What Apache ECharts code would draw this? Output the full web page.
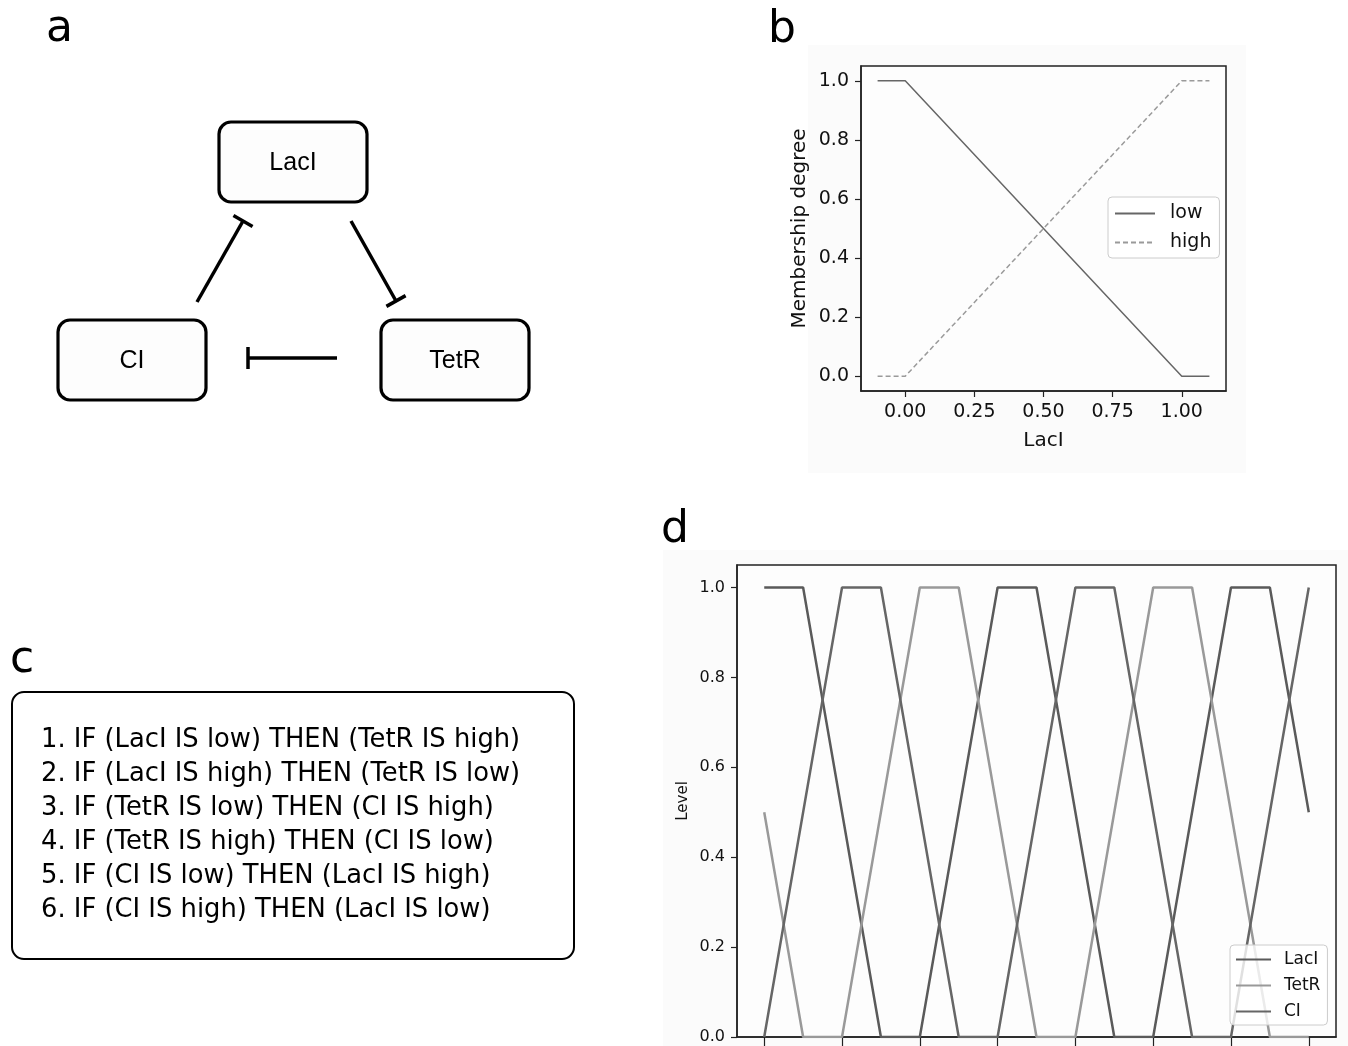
<!DOCTYPE html>
<html>
<head>
<meta charset="utf-8">
<script src="https://cdn.jsdelivr.net/npm/echarts@6/dist/echarts.min.js"></script>
<style>
  html, body { margin: 0; padding: 0; background: #fff; }
  #chart { width: 1348px; height: 1046px; }
</style>
</head>
<body>
<div id="chart"></div>
<script>
// panel a: regulatory network (schematic coordinates, px-like units)
const nodeNames = ['LacI', 'CI', 'TetR']
const nodePos = [[293, 162], [132, 360], [455, 360]]
// inhibition edges: [fromX, fromY, toX, toY], T-bar at the end
const edges = [
  [197, 302, 243, 221],
  [351, 221, 396, 301],
  [337, 358, 248, 358],
]

// panel b: membership functions
const lacIGrid = [-0.1, 0, 1, 1.1]
const lowDegree = [1, 1, 0, 0]
const highDegree = [0, 0, 1, 1]
const bTicksX = [0, 0.25, 0.5, 0.75, 1]
const bTicksY = [0, 0.2, 0.4, 0.6, 0.8, 1]

// panel c: rules
const rules = [
  '1. IF (LacI IS low) THEN (TetR IS high)',
  '2. IF (LacI IS high) THEN (TetR IS low)',
  '3. IF (TetR IS low) THEN (CI IS high)',
  '4. IF (TetR IS high) THEN (CI IS low)',
  '5. IF (CI IS low) THEN (LacI IS high)',
  '6. IF (CI IS high) THEN (LacI IS low)',
]

// panel d: simulated levels (half time steps)
const steps = [0, 0.5, 1, 1.5, 2, 2.5, 3, 3.5, 4, 4.5, 5, 5.5, 6, 6.5, 7]
const lacILevel = [1, 1, 0.5, 0, 0, 0.5, 1, 1, 0.5, 0, 0, 0.5, 1, 1, 0.5]
const tetRLevel = [0.5, 0, 0, 0.5, 1, 1, 0.5, 0, 0, 0.5, 1, 1, 0.5, 0, 0]
const cILevel = [0, 0.5, 1, 1, 0.5, 0, 0, 0.5, 1, 1, 0.5, 0, 0, 0.5, 1]
const dTicksX = [0, 1, 2, 3, 4, 5, 6, 7]
const dTicksY = [0, 0.2, 0.4, 0.6, 0.8, 1]

const font = '"DejaVu Sans", sans-serif'
const zip = (xs, ys) => xs.map((x, i) => [x, ys[i]])

const chart = echarts.init(document.getElementById('chart'), null, { renderer: 'canvas' })

const valueAxis = (grid, min, max, ticks, digits, size, extra) => ({
  type: 'value',
  gridIndex: grid,
  min,
  max,
  axisLine: { show: true, onZero: false, lineStyle: { color: '#222', width: 1.5 } },
  axisTick: { show: true, length: 6, customValues: ticks, lineStyle: { color: '#222', width: 1.2 } },
  axisLabel: {
    show: digits !== null,
    customValues: ticks,
    margin: 12,
    color: '#111',
    fontFamily: font,
    fontSize: size,
    formatter: (v) => (digits === null ? '' : v.toFixed(digits)),
  },
  splitLine: { show: false },
  ...extra,
})

const hidden = (grid, max, inverse) => ({
  type: 'value', gridIndex: grid, min: 0, max, inverse, show: false,
})

const legendBox = {
  orient: 'vertical',
  backgroundColor: 'rgba(255,255,255,0.8)',
  borderColor: '#ccc',
  borderWidth: 1,
  borderRadius: 4,
  itemStyle: { opacity: 0 },
  selectedMode: false,
}

const option = {
  animation: false,
  backgroundColor: '#fff',
  graphic: [
    { type: 'rect', z: -10, shape: { x: 808, y: 45, width: 438, height: 428 }, style: { fill: '#fbfbfb' } },
    { type: 'rect', z: -10, shape: { x: 663, y: 550, width: 685, height: 496 }, style: { fill: '#fbfbfb' } },
    { type: 'text', style: { text: 'a', x: 46, y: 30, font: '44px ' + font, verticalAlign: 'middle', fill: '#000' } },
    { type: 'text', style: { text: 'b', x: 768, y: 31, font: '44px ' + font, verticalAlign: 'middle', fill: '#000' } },
    { type: 'text', style: { text: 'c', x: 10, y: 661, font: '44px ' + font, verticalAlign: 'middle', fill: '#000' } },
    { type: 'text', style: { text: 'd', x: 661, y: 531, font: '44px ' + font, verticalAlign: 'middle', fill: '#000' } },
    {
      type: 'rect',
      shape: { x: 12, y: 692, width: 562, height: 267, r: 12 },
      style: { fill: '#fff', stroke: '#000', lineWidth: 2 },
    },
    {
      type: 'text',
      style: {
        text: rules.join('\n'),
        x: 41,
        y: 723,
        font: '25.8px ' + font,
        lineHeight: 34,
        verticalAlign: 'top',
        fill: '#000',
      },
    },
  ],
  legend: [
    {
      ...legendBox,
      data: ['low', 'high'],
      left: 1108,
      top: 197,
      padding: [7, 8, 6, 6],
      itemGap: 10,
      itemWidth: 40,
      itemHeight: 14,
      textStyle: { fontFamily: font, fontSize: 19, color: '#111', padding: [0, 0, 0, 10] },
    },
    {
      ...legendBox,
      data: ['LacI', 'TetR', 'CI'],
      left: 1230,
      top: 945,
      padding: [6, 7, 5, 5],
      itemGap: 9,
      itemWidth: 35,
      itemHeight: 12,
      textStyle: { fontFamily: font, fontSize: 17, color: '#111', padding: [0, 0, 0, 8] },
    },
  ],
  grid: [
    { left: 0, top: 0, width: 560, height: 420 },
    { left: 861, top: 66, width: 365, height: 325, show: true, borderColor: '#222', borderWidth: 1.5, backgroundColor: '#fdfdfd' },
    { left: 737, top: 565, width: 599, height: 472, show: true, borderColor: '#222', borderWidth: 1.5, backgroundColor: '#fdfdfd' },
  ],
  xAxis: [
    hidden(0, 560, false),
    valueAxis(1, -0.16, 1.16, bTicksX, 2, 19, {
      name: 'LacI',
      nameLocation: 'middle',
      nameGap: 40,
      nameTextStyle: { fontFamily: font, fontSize: 20, color: '#111' },
    }),
    valueAxis(2, -0.35, 7.35, dTicksX, null, 16, {
      axisTick: { show: true, length: 9, customValues: dTicksX, lineStyle: { color: '#222', width: 1.2 } },
    }),
  ],
  yAxis: [
    hidden(0, 420, true),
    valueAxis(1, -0.05, 1.05, bTicksY, 1, 19, {
      name: 'Membership degree',
      nameLocation: 'middle',
      nameGap: 51,
      nameTextStyle: { fontFamily: font, fontSize: 20, color: '#111' },
    }),
    valueAxis(2, 0, 1.05, dTicksY, 1, 16, {
      name: 'Level',
      nameLocation: 'middle',
      nameGap: 46,
      nameTextStyle: { fontFamily: font, fontSize: 15, color: '#111' },
    }),
  ],
  series: [
    {
      type: 'custom',
      xAxisIndex: 0,
      yAxisIndex: 0,
      silent: true,
      data: edges,
      renderItem: (params, api) => {
        const p1 = api.coord([api.value(0), api.value(1)])
        const p2 = api.coord([api.value(2), api.value(3)])
        const dx = p2[0] - p1[0]
        const dy = p2[1] - p1[1]
        const len = Math.hypot(dx, dy)
        const nx = -dy / len * 11
        const ny = dx / len * 11
        const style = { stroke: '#000', lineWidth: 3.5 }
        return {
          type: 'group',
          children: [
            { type: 'line', shape: { x1: p1[0], y1: p1[1], x2: p2[0], y2: p2[1] }, style },
            { type: 'line', shape: { x1: p2[0] - nx, y1: p2[1] - ny, x2: p2[0] + nx, y2: p2[1] + ny }, style },
          ],
        }
      },
    },
    {
      type: 'custom',
      xAxisIndex: 0,
      yAxisIndex: 0,
      silent: true,
      data: nodePos,
      renderItem: (params, api) => {
        const c = api.coord([api.value(0), api.value(1)])
        const s = api.size([148, 80])
        return {
          type: 'group',
          children: [
            {
              type: 'rect',
              shape: { x: c[0] - s[0] / 2, y: c[1] - s[1] / 2, width: s[0], height: s[1], r: 12 },
              style: { fill: '#fdfdfd', stroke: '#000', lineWidth: 3.2 },
            },
            {
              type: 'text',
              style: {
                text: nodeNames[params.dataIndex],
                x: c[0],
                y: c[1] + 1,
                align: 'center',
                verticalAlign: 'middle',
                font: '25px "Liberation Sans", Arial, sans-serif',
                fill: '#000',
              },
            },
          ],
        }
      },
    },
    {
      type: 'line',
      name: 'low',
      xAxisIndex: 1,
      yAxisIndex: 1,
      data: zip(lacIGrid, lowDegree),
      symbol: 'none',
      color: '#666',
      lineStyle: { width: 1.5, color: '#666' },
      emphasis: { disabled: true },
    },
    {
      type: 'line',
      name: 'high',
      xAxisIndex: 1,
      yAxisIndex: 1,
      data: zip(lacIGrid, highDegree),
      symbol: 'none',
      color: '#9a9a9a',
      lineStyle: { width: 1.5, color: '#9a9a9a', type: [5, 3] },
      emphasis: { disabled: true },
    },
    {
      type: 'line',
      name: 'LacI',
      xAxisIndex: 2,
      yAxisIndex: 2,
      data: zip(steps, lacILevel),
      symbol: 'none',
      color: '#5a5a5a',
      lineStyle: { width: 2.5, color: '#5a5a5a' },
      emphasis: { disabled: true },
    },
    {
      type: 'line',
      name: 'TetR',
      xAxisIndex: 2,
      yAxisIndex: 2,
      data: zip(steps, tetRLevel),
      symbol: 'none',
      color: '#999',
      lineStyle: { width: 2.5, color: '#999' },
      emphasis: { disabled: true },
    },
    {
      type: 'line',
      name: 'CI',
      xAxisIndex: 2,
      yAxisIndex: 2,
      data: zip(steps, cILevel),
      symbol: 'none',
      color: '#666',
      lineStyle: { width: 2.5, color: '#666' },
      emphasis: { disabled: true },
    },
  ],
}

chart.setOption(option)
</script>
</body>
</html>
